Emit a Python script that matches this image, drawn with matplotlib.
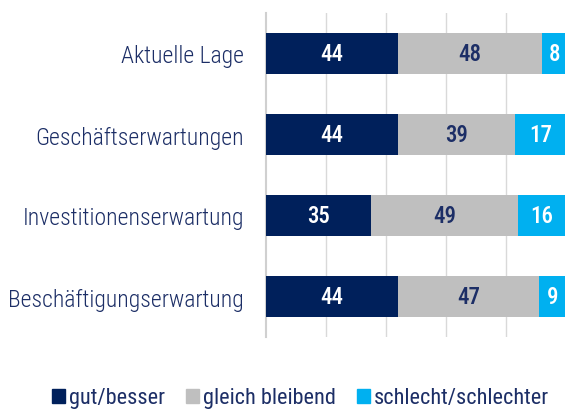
import numpy as np
import matplotlib
matplotlib.use('Agg')
import matplotlib.pyplot as plt
from matplotlib.patches import Patch
from matplotlib import font_manager as fm

# data (percent)
categories = ['Aktuelle Lage', 'Geschäftserwartungen', 'Investitionenserwartung', 'Beschäftigungserwartung']
gut = [44, 44, 35, 44]
gleich = [48, 39, 49, 47]
schlecht = [8, 17, 16, 9]
series_names = ['gut/besser', 'gleich bleibend', 'schlecht/schlechter']

navy = '#00205b'
grey = '#bfbfbf'
cyan = '#00b0f0'
text_col = '#1c2e66'

# the original uses a condensed font, so look for Roboto Condensed files
files = [f.fname for f in fm.fontManager.ttflist]

def find_font(keys):
    for key in keys:
        hits = [f for f in files if key.lower() in f.lower() and 'italic' not in f.lower()]
        if hits:
            return sorted(hits, key=len)[0]
    return None

f_light = find_font(['RobotoCondensed-Light.', 'RobotoCondensed-Regular.'])
f_reg = find_font(['RobotoCondensed-Regular.'])
f_med = find_font(['RobotoCondensed-Medium.', 'RobotoCondensed-Bold.'])

def props(fname, size, fallback_weight='normal'):
    if fname:
        return fm.FontProperties(fname=fname, size=size)
    return fm.FontProperties(family='DejaVu Sans', size=size*0.8, weight=fallback_weight)

lab_font = props(f_light, 17)
leg_font = props(f_reg, 16)
val_font = props(f_med, 16.5, 'bold')

fig = plt.figure(figsize=(5.65, 4.10), dpi=100)
ax = fig.add_axes([266/565, 72/410, 300/565, 324/410])

y = np.arange(len(categories))
h = 0.5
ax.barh(y, gut, height=h, color=navy, zorder=3)
ax.barh(y, gleich, left=gut, height=h, color=grey, zorder=3)
left3 = np.array(gut) + np.array(gleich)
ax.barh(y, schlecht, left=left3, height=h, color=cyan, zorder=3)

for i in range(len(categories)):
    ax.text(gut[i]/2, y[i], str(gut[i]), ha='center', va='center', color='white',
            fontproperties=val_font, zorder=4)
    ax.text(gut[i] + gleich[i]/2, y[i], str(gleich[i]), ha='center', va='center', color=text_col,
            fontproperties=val_font, zorder=4)
    ax.text(left3[i] + schlecht[i]/2, y[i], str(schlecht[i]), ha='center', va='center', color='white',
            fontproperties=val_font, zorder=4)

ax.set_xlim(0, 100)
ax.set_ylim(len(categories) - 0.5, -0.5)
ax.set_xticks([20, 40, 60, 80])
ax.xaxis.grid(True, color='#d9d9d9', linewidth=1, zorder=0)
ax.tick_params(axis='x', length=0, labelbottom=False)
ax.set_yticks(y)
ax.set_yticklabels(categories, color=text_col)
for t in ax.get_yticklabels():
    t.set_fontproperties(lab_font)
ax.tick_params(axis='y', length=0, pad=16)
for s in ['top', 'right', 'bottom']:
    ax.spines[s].set_visible(False)
ax.spines['left'].set_color('#d0d0d0')
ax.spines['left'].set_linewidth(1.5)

handles = [Patch(color=navy), Patch(color=grey), Patch(color=cyan)]
leg = fig.legend(handles, series_names, loc='center', bbox_to_anchor=(300.5/565, 11/410),
                 ncol=3, frameon=False, prop=leg_font, handlelength=0.585, handleheight=0.585,
                 handletextpad=0.18, columnspacing=0.95, borderaxespad=0, borderpad=0)
for t in leg.get_texts():
    t.set_color(text_col)

fig.savefig('out.png', dpi=100)
